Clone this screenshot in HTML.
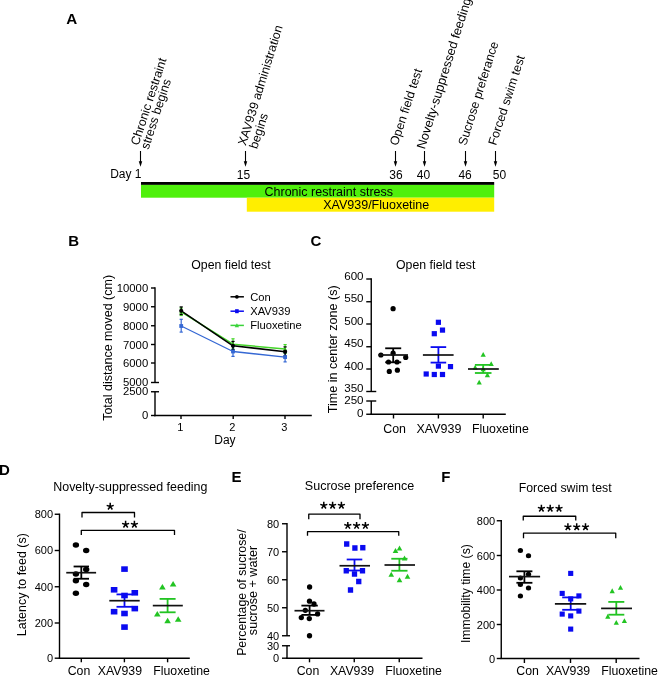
<!DOCTYPE html>
<html><head><meta charset="utf-8"><style>
html,body{margin:0;padding:0;background:#fff;overflow:hidden;}
svg{display:block;font-family:"Liberation Sans", sans-serif;will-change:transform;}
</style></head><body>
<svg width="658" height="676" viewBox="0 0 658 676">
<rect width="658" height="676" fill="#fff"/>
<text x="66.3" y="24.3" font-size="15.2" font-weight="bold">A</text>
<text x="138.5" y="146" font-size="12.4" transform="rotate(-72 138.5 146)">Chronic restraint</text>
<text x="148.5" y="150" font-size="12.4" transform="rotate(-72 148.5 150)">stress begins</text>
<text x="245.8" y="146.3" font-size="12.4" transform="rotate(-72.8 245.8 146.3)">XAV939 administration</text>
<text x="257" y="149.5" font-size="12.4" transform="rotate(-72 257 149.5)">begins</text>
<text x="397.6" y="146.3" font-size="12.4" transform="rotate(-72 397.6 146.3)">Open field test</text>
<text x="424.8" y="149.8" font-size="12.7" transform="rotate(-72.8 424.8 149.8)">Novelty-suppressed feeding</text>
<text x="466" y="146.2" font-size="12.4" transform="rotate(-72.5 466 146.2)">Sucrose preferance</text>
<text x="496" y="146" font-size="12.4" transform="rotate(-72 496 146)">Forced swim test</text>
<line x1="140.5" y1="151" x2="140.5" y2="162.3" stroke="#000" stroke-width="1.1"/>
<polygon points="138.75,161.3 142.25,161.3 140.5,166.8" fill="#000"/>
<line x1="245.5" y1="151" x2="245.5" y2="162.3" stroke="#000" stroke-width="1.1"/>
<polygon points="243.75,161.3 247.25,161.3 245.5,166.8" fill="#000"/>
<line x1="395.5" y1="151" x2="395.5" y2="162.3" stroke="#000" stroke-width="1.1"/>
<polygon points="393.75,161.3 397.25,161.3 395.5,166.8" fill="#000"/>
<line x1="424.5" y1="151" x2="424.5" y2="162.3" stroke="#000" stroke-width="1.1"/>
<polygon points="422.75,161.3 426.25,161.3 424.5,166.8" fill="#000"/>
<line x1="465.5" y1="151" x2="465.5" y2="162.3" stroke="#000" stroke-width="1.1"/>
<polygon points="463.75,161.3 467.25,161.3 465.5,166.8" fill="#000"/>
<line x1="495.5" y1="151" x2="495.5" y2="162.3" stroke="#000" stroke-width="1.1"/>
<polygon points="493.75,161.3 497.25,161.3 495.5,166.8" fill="#000"/>
<text x="141.5" y="178" font-size="12" text-anchor="end">Day 1</text>
<text x="243.4" y="178.5" font-size="12" text-anchor="middle">15</text>
<text x="395.9" y="178.5" font-size="12" text-anchor="middle">36</text>
<text x="423.5" y="178.5" font-size="12" text-anchor="middle">40</text>
<text x="465.1" y="178.5" font-size="12" text-anchor="middle">46</text>
<text x="499.5" y="178.5" font-size="12" text-anchor="middle">50</text>
<rect x="141" y="182" width="353.2" height="2.9" fill="#000"/>
<rect x="141" y="184.9" width="353.2" height="12.8" fill="#4ff00c"/>
<rect x="246.8" y="197.7" width="247.4" height="14" fill="#ffee00"/>
<text x="264.5" y="196" font-size="12.5">Chronic restraint stress</text>
<text x="323.2" y="209.3" font-size="12.5">XAV939/Fluoxetine</text>
<text x="68.3" y="246" font-size="15" font-weight="bold">B</text>
<text x="230.9" y="269.2" font-size="12.3" text-anchor="middle">Open field test</text>
<line x1="155" y1="287.3" x2="155" y2="382.5" stroke="#000" stroke-width="1.4"/>
<line x1="155" y1="391.75" x2="155" y2="416.2" stroke="#000" stroke-width="1.4"/>
<line x1="151" y1="288" x2="155" y2="288" stroke="#000" stroke-width="1.4"/>
<text x="148.2" y="292" font-size="11.3" text-anchor="end">10000</text>
<line x1="151" y1="306.75" x2="155" y2="306.75" stroke="#000" stroke-width="1.4"/>
<text x="148.2" y="310.75" font-size="11.3" text-anchor="end">9000</text>
<line x1="151" y1="325.75" x2="155" y2="325.75" stroke="#000" stroke-width="1.4"/>
<text x="148.2" y="329.75" font-size="11.3" text-anchor="end">8000</text>
<line x1="151" y1="344.5" x2="155" y2="344.5" stroke="#000" stroke-width="1.4"/>
<text x="148.2" y="348.5" font-size="11.3" text-anchor="end">7000</text>
<line x1="151" y1="363" x2="155" y2="363" stroke="#000" stroke-width="1.4"/>
<text x="148.2" y="367" font-size="11.3" text-anchor="end">6000</text>
<line x1="151" y1="382.5" x2="159" y2="382.5" stroke="#000" stroke-width="1.4"/>
<text x="148.2" y="386.1" font-size="11.3" text-anchor="end">5000</text>
<line x1="151" y1="391.75" x2="159" y2="391.75" stroke="#000" stroke-width="1.4"/>
<text x="148.2" y="394.95" font-size="11.3" text-anchor="end">2500</text>
<line x1="151" y1="415.5" x2="155" y2="415.5" stroke="#000" stroke-width="1.4"/>
<text x="148.2" y="418.9" font-size="11.3" text-anchor="end">0</text>
<line x1="154.3" y1="415.5" x2="311.8" y2="415.5" stroke="#000" stroke-width="1.4"/>
<line x1="181" y1="415.5" x2="181" y2="419" stroke="#000" stroke-width="1.4"/>
<text x="180.2" y="431" font-size="11" text-anchor="middle">1</text>
<line x1="233.2" y1="415.5" x2="233.2" y2="419" stroke="#000" stroke-width="1.4"/>
<text x="232.39999999999998" y="431" font-size="11" text-anchor="middle">2</text>
<line x1="285" y1="415.5" x2="285" y2="419" stroke="#000" stroke-width="1.4"/>
<text x="284.2" y="431" font-size="11" text-anchor="middle">3</text>
<text x="224.9" y="444.1" font-size="12" text-anchor="middle">Day</text>
<text x="112.4" y="347.9" font-size="12.5" text-anchor="middle" transform="rotate(-90 112.4 347.9)">Total distance moved (cm)</text>
<polyline points="181.2,311.8 233,344.2 285.1,349.1" fill="none" stroke="#45d62a" stroke-width="1.5" stroke-linejoin="round"/>
<polyline points="181.2,326 233,351.5 285.1,357.1" fill="none" stroke="#3568d4" stroke-width="1.3" stroke-linejoin="round"/>
<polyline points="181.2,310.8 233,345.8 285.1,351.7" fill="none" stroke="#000" stroke-width="1.6" stroke-linejoin="round"/>
<line x1="181.2" y1="308" x2="181.2" y2="315.5" stroke="#45d62a" stroke-width="1.2"/>
<line x1="179.6" y1="308" x2="182.79999999999998" y2="308" stroke="#45d62a" stroke-width="1.2"/>
<line x1="179.6" y1="315.5" x2="182.79999999999998" y2="315.5" stroke="#45d62a" stroke-width="1.2"/>
<line x1="181.2" y1="319.3" x2="181.2" y2="332.1" stroke="#3568d4" stroke-width="1.2"/>
<line x1="179.6" y1="319.3" x2="182.79999999999998" y2="319.3" stroke="#3568d4" stroke-width="1.2"/>
<line x1="179.6" y1="332.1" x2="182.79999999999998" y2="332.1" stroke="#3568d4" stroke-width="1.2"/>
<line x1="181.2" y1="306.9" x2="181.2" y2="314.5" stroke="#000" stroke-width="1.2"/>
<line x1="179.6" y1="306.9" x2="182.79999999999998" y2="306.9" stroke="#000" stroke-width="1.2"/>
<line x1="179.6" y1="314.5" x2="182.79999999999998" y2="314.5" stroke="#000" stroke-width="1.2"/>
<polygon points="181.20,309.71 183.30,313.51 179.10,313.51" fill="#45d62a"/>
<rect x="179.30" y="324.10" width="3.8" height="3.8" fill="#3568d4"/>
<circle cx="181.2" cy="310.8" r="2.1" fill="#000"/>
<line x1="233" y1="338.8" x2="233" y2="349" stroke="#45d62a" stroke-width="1.2"/>
<line x1="231.4" y1="338.8" x2="234.6" y2="338.8" stroke="#45d62a" stroke-width="1.2"/>
<line x1="231.4" y1="349" x2="234.6" y2="349" stroke="#45d62a" stroke-width="1.2"/>
<line x1="233" y1="346.5" x2="233" y2="356.4" stroke="#3568d4" stroke-width="1.2"/>
<line x1="231.4" y1="346.5" x2="234.6" y2="346.5" stroke="#3568d4" stroke-width="1.2"/>
<line x1="231.4" y1="356.4" x2="234.6" y2="356.4" stroke="#3568d4" stroke-width="1.2"/>
<line x1="233" y1="341.4" x2="233" y2="349.7" stroke="#000" stroke-width="1.2"/>
<line x1="231.4" y1="341.4" x2="234.6" y2="341.4" stroke="#000" stroke-width="1.2"/>
<line x1="231.4" y1="349.7" x2="234.6" y2="349.7" stroke="#000" stroke-width="1.2"/>
<polygon points="233.00,342.11 235.10,345.91 230.90,345.91" fill="#45d62a"/>
<rect x="231.10" y="349.60" width="3.8" height="3.8" fill="#3568d4"/>
<circle cx="233" cy="345.8" r="2.1" fill="#000"/>
<line x1="285.1" y1="344.6" x2="285.1" y2="353.5" stroke="#45d62a" stroke-width="1.2"/>
<line x1="283.5" y1="344.6" x2="286.70000000000005" y2="344.6" stroke="#45d62a" stroke-width="1.2"/>
<line x1="283.5" y1="353.5" x2="286.70000000000005" y2="353.5" stroke="#45d62a" stroke-width="1.2"/>
<line x1="285.1" y1="352.5" x2="285.1" y2="361.9" stroke="#3568d4" stroke-width="1.2"/>
<line x1="283.5" y1="352.5" x2="286.70000000000005" y2="352.5" stroke="#3568d4" stroke-width="1.2"/>
<line x1="283.5" y1="361.9" x2="286.70000000000005" y2="361.9" stroke="#3568d4" stroke-width="1.2"/>
<line x1="285.1" y1="346.9" x2="285.1" y2="356" stroke="#000" stroke-width="1.2"/>
<line x1="283.5" y1="346.9" x2="286.70000000000005" y2="346.9" stroke="#000" stroke-width="1.2"/>
<line x1="283.5" y1="356" x2="286.70000000000005" y2="356" stroke="#000" stroke-width="1.2"/>
<polygon points="285.10,347.01 287.20,350.81 283.00,350.81" fill="#45d62a"/>
<rect x="283.20" y="355.20" width="3.8" height="3.8" fill="#3568d4"/>
<circle cx="285.1" cy="351.7" r="2.1" fill="#000"/>
<line x1="230.5" y1="296.8" x2="243.9" y2="296.8" stroke="#000" stroke-width="1.5"/>
<circle cx="236.9" cy="296.8" r="1.9" fill="#000"/>
<text x="250.2" y="300.8" font-size="11.2">Con</text>
<line x1="230.5" y1="311.2" x2="243.9" y2="311.2" stroke="#0a0af0" stroke-width="1.5"/>
<rect x="235.10" y="309.20" width="3.6" height="4" fill="#0a0af0"/>
<text x="250.2" y="315.2" font-size="11.2">XAV939</text>
<line x1="230.5" y1="325.4" x2="243.9" y2="325.4" stroke="#3ad33a" stroke-width="1.5"/>
<polygon points="236.90,323.20 239.10,327.20 234.70,327.20" fill="#3ad33a"/>
<text x="250.2" y="329.4" font-size="11.2">Fluoxetine</text>
<text x="310.4" y="246" font-size="15" font-weight="bold">C</text>
<text x="435.7" y="269.2" font-size="12.3" text-anchor="middle">Open field test</text>
<line x1="371.25" y1="278.3" x2="371.25" y2="391.5" stroke="#000" stroke-width="1.4"/>
<line x1="371.25" y1="401" x2="371.25" y2="415" stroke="#000" stroke-width="1.4"/>
<line x1="366.25" y1="279" x2="371.25" y2="279" stroke="#000" stroke-width="1.4"/>
<text x="363.55" y="279.8" font-size="11.6" text-anchor="end">600</text>
<line x1="366.25" y1="301.75" x2="371.25" y2="301.75" stroke="#000" stroke-width="1.4"/>
<text x="363.55" y="302.3" font-size="11.6" text-anchor="end">550</text>
<line x1="366.25" y1="324" x2="371.25" y2="324" stroke="#000" stroke-width="1.4"/>
<text x="363.55" y="324.6" font-size="11.6" text-anchor="end">500</text>
<line x1="366.25" y1="346.75" x2="371.25" y2="346.75" stroke="#000" stroke-width="1.4"/>
<text x="363.55" y="347.1" font-size="11.6" text-anchor="end">450</text>
<line x1="366.25" y1="369" x2="371.25" y2="369" stroke="#000" stroke-width="1.4"/>
<text x="363.55" y="370.1" font-size="11.6" text-anchor="end">400</text>
<line x1="366.25" y1="391.5" x2="376.25" y2="391.5" stroke="#000" stroke-width="1.4"/>
<text x="363.55" y="392.4" font-size="11.6" text-anchor="end">350</text>
<line x1="366.25" y1="401" x2="376.25" y2="401" stroke="#000" stroke-width="1.4"/>
<text x="363.55" y="403.7" font-size="11.6" text-anchor="end">250</text>
<line x1="366.25" y1="414.25" x2="371.25" y2="414.25" stroke="#000" stroke-width="1.4"/>
<text x="363.55" y="416.7" font-size="11.6" text-anchor="end">0</text>
<line x1="370.55" y1="414.25" x2="505.8" y2="414.25" stroke="#000" stroke-width="1.4"/>
<line x1="393.5" y1="414.25" x2="393.5" y2="418.5" stroke="#000" stroke-width="1.4"/>
<line x1="438.4" y1="414.25" x2="438.4" y2="418.5" stroke="#000" stroke-width="1.4"/>
<line x1="483.2" y1="414.25" x2="483.2" y2="418.5" stroke="#000" stroke-width="1.4"/>
<text x="394.6" y="433" font-size="12.4" text-anchor="middle">Con</text>
<text x="438.9" y="433" font-size="12.5" text-anchor="middle">XAV939</text>
<text x="500.4" y="433" font-size="12.3" text-anchor="middle">Fluoxetine</text>
<text x="337" y="349.3" font-size="12.55" text-anchor="middle" transform="rotate(-90 337 349.3)">Time in center zone (s)</text>
<line x1="393.2" y1="348.3" x2="393.2" y2="362.3" stroke="#000" stroke-width="1.8"/>
<line x1="385.2" y1="348.3" x2="401.2" y2="348.3" stroke="#000" stroke-width="1.8"/>
<line x1="385.2" y1="362.3" x2="401.2" y2="362.3" stroke="#000" stroke-width="1.8"/>
<circle cx="393.1" cy="308.7" r="2.6" fill="#000"/>
<circle cx="380.9" cy="355" r="2.6" fill="#000"/>
<circle cx="393.1" cy="353.2" r="2.6" fill="#000"/>
<circle cx="405.7" cy="357.4" r="2.6" fill="#000"/>
<circle cx="388.5" cy="362" r="2.6" fill="#000"/>
<circle cx="397" cy="362" r="2.6" fill="#000"/>
<circle cx="389.3" cy="371.4" r="2.6" fill="#000"/>
<circle cx="397.4" cy="370.2" r="2.6" fill="#000"/>
<line x1="378.4" y1="355" x2="408" y2="355" stroke="#111" stroke-width="1.7"/>
<rect x="435.80" y="319.70" width="5.2" height="5.2" fill="#0a0af0"/>
<rect x="439.90" y="327.50" width="5.2" height="5.2" fill="#0a0af0"/>
<rect x="431.70" y="331.10" width="5.2" height="5.2" fill="#0a0af0"/>
<rect x="435.80" y="363.50" width="5.2" height="5.2" fill="#0a0af0"/>
<rect x="447.90" y="364.00" width="5.2" height="5.2" fill="#0a0af0"/>
<rect x="423.60" y="371.40" width="5.2" height="5.2" fill="#0a0af0"/>
<rect x="431.70" y="371.90" width="5.2" height="5.2" fill="#0a0af0"/>
<rect x="439.90" y="371.90" width="5.2" height="5.2" fill="#0a0af0"/>
<line x1="438.4" y1="347.1" x2="438.4" y2="362.6" stroke="#0a0af0" stroke-width="1.8"/>
<line x1="430.59999999999997" y1="347.1" x2="446.2" y2="347.1" stroke="#0a0af0" stroke-width="1.8"/>
<line x1="430.59999999999997" y1="362.6" x2="446.2" y2="362.6" stroke="#0a0af0" stroke-width="1.8"/>
<line x1="422.9" y1="355" x2="453.6" y2="355" stroke="#111" stroke-width="1.7"/>
<polygon points="483.20,351.96 485.80,356.76 480.60,356.76" fill="#22c422"/>
<polygon points="491.20,361.16 493.80,365.96 488.60,365.96" fill="#22c422"/>
<polygon points="475.20,364.86 477.80,369.66 472.60,369.66" fill="#22c422"/>
<polygon points="483.20,366.36 485.80,371.16 480.60,371.16" fill="#22c422"/>
<polygon points="487.40,372.36 490.00,377.16 484.80,377.16" fill="#22c422"/>
<polygon points="479.20,379.66 481.80,384.46 476.60,384.46" fill="#22c422"/>
<line x1="483.2" y1="364.9" x2="483.2" y2="373" stroke="#22c422" stroke-width="1.8"/>
<line x1="474.9" y1="364.9" x2="491.5" y2="364.9" stroke="#22c422" stroke-width="1.8"/>
<line x1="474.9" y1="373" x2="491.5" y2="373" stroke="#22c422" stroke-width="1.8"/>
<line x1="468" y1="369" x2="498.8" y2="369" stroke="#111" stroke-width="1.7"/>
<text x="-1.1" y="474.9" font-size="15" font-weight="bold">D</text>
<text x="53.25" y="490.6" font-size="12.45">Novelty-suppressed feeding</text>
<line x1="59.5" y1="513.6" x2="59.5" y2="658.9" stroke="#000" stroke-width="1.4"/>
<line x1="54.7" y1="514.25" x2="59.5" y2="514.25" stroke="#000" stroke-width="1.4"/>
<text x="53.0" y="518.15" font-size="11" text-anchor="end">800</text>
<line x1="54.7" y1="550.5" x2="59.5" y2="550.5" stroke="#000" stroke-width="1.4"/>
<text x="53.0" y="554.4" font-size="11" text-anchor="end">600</text>
<line x1="54.7" y1="586.75" x2="59.5" y2="586.75" stroke="#000" stroke-width="1.4"/>
<text x="53.0" y="590.65" font-size="11" text-anchor="end">400</text>
<line x1="54.7" y1="623" x2="59.5" y2="623" stroke="#000" stroke-width="1.4"/>
<text x="53.0" y="626.9" font-size="11" text-anchor="end">200</text>
<line x1="54.7" y1="658.2" x2="59.5" y2="658.2" stroke="#000" stroke-width="1.4"/>
<text x="53.0" y="662.1" font-size="11" text-anchor="end">0</text>
<line x1="58.8" y1="658.2" x2="189.8" y2="658.2" stroke="#000" stroke-width="1.4"/>
<line x1="81.3" y1="658.2" x2="81.3" y2="662.3" stroke="#000" stroke-width="1.4"/>
<line x1="124.4" y1="658.2" x2="124.4" y2="662.3" stroke="#000" stroke-width="1.4"/>
<line x1="167.6" y1="658.2" x2="167.6" y2="662.3" stroke="#000" stroke-width="1.4"/>
<text x="79" y="675" font-size="12.3" text-anchor="middle">Con</text>
<text x="119.9" y="675" font-size="12.3" text-anchor="middle">XAV939</text>
<text x="181.6" y="675" font-size="12.3" text-anchor="middle">Fluoxetine</text>
<text x="26.5" y="584.7" font-size="12.45" text-anchor="middle" transform="rotate(-90 26.5 584.7)">Latency to feed (s)</text>
<polyline points="82,517.5 82,512.5 134.5,512.5 134.5,517.5" fill="none" stroke="#000" stroke-width="1.3" stroke-linejoin="round"/>
<path d="M110.20,506.50L110.20,502.80M110.20,506.50L113.72,505.36M110.20,506.50L112.37,509.49M110.20,506.50L108.03,509.49M110.20,506.50L106.68,505.36" stroke="#000" stroke-width="1.5" fill="none"/>
<polyline points="81.3,535 81.3,530.3 174.5,530.3 174.5,535" fill="none" stroke="#000" stroke-width="1.3" stroke-linejoin="round"/>
<path d="M125.60,524.50L125.60,520.80M125.60,524.50L129.12,523.36M125.60,524.50L127.77,527.49M125.60,524.50L123.43,527.49M125.60,524.50L122.08,523.36" stroke="#000" stroke-width="1.5" fill="none"/>
<path d="M134.40,524.50L134.40,520.80M134.40,524.50L137.92,523.36M134.40,524.50L136.57,527.49M134.40,524.50L132.23,527.49M134.40,524.50L130.88,523.36" stroke="#000" stroke-width="1.5" fill="none"/>
<ellipse cx="75.9" cy="544.9" rx="3.2" ry="2.75" fill="#000"/>
<ellipse cx="86.2" cy="550.4" rx="3.2" ry="2.75" fill="#000"/>
<ellipse cx="86.2" cy="569.6" rx="3.2" ry="2.75" fill="#000"/>
<ellipse cx="75.9" cy="573.9" rx="3.2" ry="2.75" fill="#000"/>
<ellipse cx="75.9" cy="580.7" rx="3.2" ry="2.75" fill="#000"/>
<ellipse cx="86.2" cy="584.5" rx="3.2" ry="2.75" fill="#000"/>
<ellipse cx="75.9" cy="593.2" rx="3.2" ry="2.75" fill="#000"/>
<line x1="81.3" y1="566.5" x2="81.3" y2="578.75" stroke="#000" stroke-width="1.8"/>
<line x1="73.6" y1="566.5" x2="89.0" y2="566.5" stroke="#000" stroke-width="1.8"/>
<line x1="73.6" y1="578.75" x2="89.0" y2="578.75" stroke="#000" stroke-width="1.8"/>
<line x1="66.25" y1="572.7" x2="96.1" y2="572.7" stroke="#111" stroke-width="1.7"/>
<rect x="121.20" y="566.30" width="6.6" height="5.6" fill="#0a0af0"/>
<rect x="110.80" y="587.00" width="6.6" height="5.6" fill="#0a0af0"/>
<rect x="131.50" y="590.00" width="6.6" height="5.6" fill="#0a0af0"/>
<rect x="121.20" y="592.70" width="6.6" height="5.6" fill="#0a0af0"/>
<rect x="131.50" y="605.80" width="6.6" height="5.6" fill="#0a0af0"/>
<rect x="110.80" y="608.90" width="6.6" height="5.6" fill="#0a0af0"/>
<rect x="121.20" y="610.70" width="6.6" height="5.6" fill="#0a0af0"/>
<rect x="121.20" y="624.30" width="6.6" height="5.6" fill="#0a0af0"/>
<line x1="124.5" y1="594.4" x2="124.5" y2="606.8" stroke="#0a0af0" stroke-width="1.8"/>
<line x1="116.5" y1="594.4" x2="132.5" y2="594.4" stroke="#0a0af0" stroke-width="1.8"/>
<line x1="116.5" y1="606.8" x2="132.5" y2="606.8" stroke="#0a0af0" stroke-width="1.8"/>
<line x1="109.3" y1="600.7" x2="139.7" y2="600.7" stroke="#111" stroke-width="1.7"/>
<polygon points="162.40,583.98 165.70,589.48 159.10,589.48" fill="#22c422"/>
<polygon points="173.10,581.08 176.40,586.58 169.80,586.58" fill="#22c422"/>
<polygon points="157.30,611.08 160.60,616.58 154.00,616.58" fill="#22c422"/>
<polygon points="167.60,617.77 170.90,623.27 164.30,623.27" fill="#22c422"/>
<polygon points="178.20,616.18 181.50,621.68 174.90,621.68" fill="#22c422"/>
<line x1="167.6" y1="598.9" x2="167.6" y2="612.3" stroke="#22c422" stroke-width="1.8"/>
<line x1="159.6" y1="598.9" x2="175.6" y2="598.9" stroke="#22c422" stroke-width="1.8"/>
<line x1="159.6" y1="612.3" x2="175.6" y2="612.3" stroke="#22c422" stroke-width="1.8"/>
<line x1="152.8" y1="605.6" x2="182.8" y2="605.6" stroke="#111" stroke-width="1.7"/>
<text x="231.6" y="481.8" font-size="15" font-weight="bold">E</text>
<text x="304.8" y="489.9" font-size="12.55">Sucrose preference</text>
<line x1="287" y1="523.1" x2="287" y2="635.75" stroke="#000" stroke-width="1.4"/>
<line x1="287" y1="645.75" x2="287" y2="658.9" stroke="#000" stroke-width="1.4"/>
<line x1="282" y1="523.75" x2="287" y2="523.75" stroke="#000" stroke-width="1.4"/>
<text x="279.2" y="527.65" font-size="11" text-anchor="end">80</text>
<line x1="282" y1="551.75" x2="287" y2="551.75" stroke="#000" stroke-width="1.4"/>
<text x="279.2" y="555.65" font-size="11" text-anchor="end">70</text>
<line x1="282" y1="579.75" x2="287" y2="579.75" stroke="#000" stroke-width="1.4"/>
<text x="279.2" y="583.65" font-size="11" text-anchor="end">60</text>
<line x1="282" y1="607.75" x2="287" y2="607.75" stroke="#000" stroke-width="1.4"/>
<text x="279.2" y="611.65" font-size="11" text-anchor="end">50</text>
<line x1="282" y1="635.75" x2="290" y2="635.75" stroke="#000" stroke-width="1.4"/>
<text x="279.2" y="639.65" font-size="11" text-anchor="end">40</text>
<line x1="282" y1="645.75" x2="290" y2="645.75" stroke="#000" stroke-width="1.4"/>
<text x="279.2" y="649.65" font-size="11" text-anchor="end">30</text>
<line x1="282" y1="658.2" x2="287" y2="658.2" stroke="#000" stroke-width="1.4"/>
<text x="279.2" y="662.1" font-size="11" text-anchor="end">0</text>
<line x1="286.3" y1="658.2" x2="422.5" y2="658.2" stroke="#000" stroke-width="1.4"/>
<line x1="309.5" y1="658.2" x2="309.5" y2="662.3" stroke="#000" stroke-width="1.4"/>
<line x1="354.25" y1="658.2" x2="354.25" y2="662.3" stroke="#000" stroke-width="1.4"/>
<line x1="399.25" y1="658.2" x2="399.25" y2="662.3" stroke="#000" stroke-width="1.4"/>
<text x="308" y="675" font-size="12.3" text-anchor="middle">Con</text>
<text x="352" y="675" font-size="12.3" text-anchor="middle">XAV939</text>
<text x="413.6" y="675" font-size="12.3" text-anchor="middle">Fluoxetine</text>
<text x="246.1" y="592.6" font-size="12.3" text-anchor="middle" transform="rotate(-90 246.1 592.6)">Percentage of sucrose/</text>
<text x="257.1" y="590.5" font-size="12.6" text-anchor="middle" transform="rotate(-90 257.1 590.5)">sucrose + water</text>
<polyline points="308.75,519.3 308.75,514.2 360,514.2 360,519.3" fill="none" stroke="#000" stroke-width="1.3" stroke-linejoin="round"/>
<path d="M323.80,505.50L323.80,501.80M323.80,505.50L327.32,504.36M323.80,505.50L325.97,508.49M323.80,505.50L321.63,508.49M323.80,505.50L320.28,504.36" stroke="#000" stroke-width="1.5" fill="none"/>
<path d="M332.60,505.50L332.60,501.80M332.60,505.50L336.12,504.36M332.60,505.50L334.77,508.49M332.60,505.50L330.43,508.49M332.60,505.50L329.08,504.36" stroke="#000" stroke-width="1.5" fill="none"/>
<path d="M341.40,505.50L341.40,501.80M341.40,505.50L344.92,504.36M341.40,505.50L343.57,508.49M341.40,505.50L339.23,508.49M341.40,505.50L337.88,504.36" stroke="#000" stroke-width="1.5" fill="none"/>
<polyline points="307.5,535.75 307.5,531.7 398.75,531.7 398.75,535.75" fill="none" stroke="#000" stroke-width="1.3" stroke-linejoin="round"/>
<path d="M347.80,525.60L347.80,521.90M347.80,525.60L351.32,524.46M347.80,525.60L349.97,528.59M347.80,525.60L345.63,528.59M347.80,525.60L344.28,524.46" stroke="#000" stroke-width="1.5" fill="none"/>
<path d="M356.60,525.60L356.60,521.90M356.60,525.60L360.12,524.46M356.60,525.60L358.77,528.59M356.60,525.60L354.43,528.59M356.60,525.60L353.08,524.46" stroke="#000" stroke-width="1.5" fill="none"/>
<path d="M365.40,525.60L365.40,521.90M365.40,525.60L368.92,524.46M365.40,525.60L367.57,528.59M365.40,525.60L363.23,528.59M365.40,525.60L361.88,524.46" stroke="#000" stroke-width="1.5" fill="none"/>
<circle cx="309.6" cy="587" r="2.65" fill="#000"/>
<circle cx="309.5" cy="601.2" r="2.65" fill="#000"/>
<circle cx="314" cy="604" r="2.65" fill="#000"/>
<circle cx="305.3" cy="610.3" r="2.65" fill="#000"/>
<circle cx="317.6" cy="613.9" r="2.65" fill="#000"/>
<circle cx="301.3" cy="617.6" r="2.65" fill="#000"/>
<circle cx="309.3" cy="618.6" r="2.65" fill="#000"/>
<circle cx="309.5" cy="635.75" r="2.65" fill="#000"/>
<line x1="309.6" y1="605.6" x2="309.6" y2="614.9" stroke="#000" stroke-width="1.8"/>
<line x1="301.40000000000003" y1="605.6" x2="317.8" y2="605.6" stroke="#000" stroke-width="1.8"/>
<line x1="301.40000000000003" y1="614.9" x2="317.8" y2="614.9" stroke="#000" stroke-width="1.8"/>
<line x1="294.5" y1="610.7" x2="324.5" y2="610.7" stroke="#111" stroke-width="1.7"/>
<rect x="344.05" y="541.25" width="5.3" height="5.5" fill="#0a0af0"/>
<rect x="352.25" y="545.25" width="5.3" height="5.5" fill="#0a0af0"/>
<rect x="360.15" y="544.95" width="5.3" height="5.5" fill="#0a0af0"/>
<rect x="343.60" y="568.00" width="5.3" height="5.5" fill="#0a0af0"/>
<rect x="351.85" y="571.25" width="5.3" height="5.5" fill="#0a0af0"/>
<rect x="359.85" y="568.00" width="5.3" height="5.5" fill="#0a0af0"/>
<rect x="356.10" y="578.75" width="5.3" height="5.5" fill="#0a0af0"/>
<rect x="347.85" y="587.25" width="5.3" height="5.5" fill="#0a0af0"/>
<line x1="354.5" y1="559.5" x2="354.5" y2="570.5" stroke="#0a0af0" stroke-width="1.8"/>
<line x1="346.7" y1="559.5" x2="362.3" y2="559.5" stroke="#0a0af0" stroke-width="1.8"/>
<line x1="346.7" y1="570.5" x2="362.3" y2="570.5" stroke="#0a0af0" stroke-width="1.8"/>
<line x1="339.5" y1="565.75" x2="370" y2="565.75" stroke="#111" stroke-width="1.7"/>
<polygon points="395.50,548.00 398.30,553.00 392.70,553.00" fill="#22c422"/>
<polygon points="399.50,545.50 402.30,550.50 396.70,550.50" fill="#22c422"/>
<polygon points="404.50,555.50 407.30,560.50 401.70,560.50" fill="#22c422"/>
<polygon points="391.25,571.75 394.05,576.75 388.45,576.75" fill="#22c422"/>
<polygon points="399.50,577.25 402.30,582.25 396.70,582.25" fill="#22c422"/>
<polygon points="407.50,573.75 410.30,578.75 404.70,578.75" fill="#22c422"/>
<line x1="399.4" y1="558.75" x2="399.4" y2="570.75" stroke="#22c422" stroke-width="1.8"/>
<line x1="391.29999999999995" y1="558.75" x2="407.5" y2="558.75" stroke="#22c422" stroke-width="1.8"/>
<line x1="391.29999999999995" y1="570.75" x2="407.5" y2="570.75" stroke="#22c422" stroke-width="1.8"/>
<line x1="384.5" y1="565" x2="415" y2="565" stroke="#111" stroke-width="1.7"/>
<text x="441.2" y="481.8" font-size="15" font-weight="bold">F</text>
<text x="518.75" y="492.1" font-size="12.3">Forced swim test</text>
<line x1="501.25" y1="520.1" x2="501.25" y2="658.9" stroke="#000" stroke-width="1.4"/>
<line x1="496.75" y1="520.75" x2="501.25" y2="520.75" stroke="#000" stroke-width="1.4"/>
<text x="495.15" y="525.15" font-size="11" text-anchor="end">800</text>
<line x1="496.75" y1="555.5" x2="501.25" y2="555.5" stroke="#000" stroke-width="1.4"/>
<text x="495.15" y="559.9" font-size="11" text-anchor="end">600</text>
<line x1="496.75" y1="590" x2="501.25" y2="590" stroke="#000" stroke-width="1.4"/>
<text x="495.15" y="594.4" font-size="11" text-anchor="end">400</text>
<line x1="496.75" y1="624.5" x2="501.25" y2="624.5" stroke="#000" stroke-width="1.4"/>
<text x="495.15" y="628.9" font-size="11" text-anchor="end">200</text>
<line x1="496.75" y1="658.5" x2="501.25" y2="658.5" stroke="#000" stroke-width="1.4"/>
<text x="495.15" y="662.9" font-size="11" text-anchor="end">0</text>
<line x1="500.55" y1="658.5" x2="639.5" y2="658.5" stroke="#000" stroke-width="1.4"/>
<line x1="524.4" y1="658.5" x2="524.4" y2="663" stroke="#000" stroke-width="1.4"/>
<line x1="570.5" y1="658.5" x2="570.5" y2="663" stroke="#000" stroke-width="1.4"/>
<line x1="616.2" y1="658.5" x2="616.2" y2="663" stroke="#000" stroke-width="1.4"/>
<text x="527.6" y="675" font-size="12.3" text-anchor="middle">Con</text>
<text x="568" y="675" font-size="12.3" text-anchor="middle">XAV939</text>
<text x="629.6" y="675" font-size="12.3" text-anchor="middle">Fluoxetine</text>
<text x="470.5" y="593.6" font-size="12.2" text-anchor="middle" transform="rotate(-90 470.5 593.6)">Immobility time (s)</text>
<polyline points="523.25,520.5 523.25,516.25 575.75,516.25 575.75,520.5" fill="none" stroke="#000" stroke-width="1.3" stroke-linejoin="round"/>
<path d="M541.40,508.50L541.40,504.80M541.40,508.50L544.92,507.36M541.40,508.50L543.57,511.49M541.40,508.50L539.23,511.49M541.40,508.50L537.88,507.36" stroke="#000" stroke-width="1.5" fill="none"/>
<path d="M550.20,508.50L550.20,504.80M550.20,508.50L553.72,507.36M550.20,508.50L552.37,511.49M550.20,508.50L548.03,511.49M550.20,508.50L546.68,507.36" stroke="#000" stroke-width="1.5" fill="none"/>
<path d="M559.00,508.50L559.00,504.80M559.00,508.50L562.52,507.36M559.00,508.50L561.17,511.49M559.00,508.50L556.83,511.49M559.00,508.50L555.48,507.36" stroke="#000" stroke-width="1.5" fill="none"/>
<polyline points="523.5,538.25 523.5,533.2 615.75,533.2 615.75,538.25" fill="none" stroke="#000" stroke-width="1.3" stroke-linejoin="round"/>
<path d="M567.90,527.00L567.90,523.30M567.90,527.00L571.42,525.86M567.90,527.00L570.07,529.99M567.90,527.00L565.73,529.99M567.90,527.00L564.38,525.86" stroke="#000" stroke-width="1.5" fill="none"/>
<path d="M576.70,527.00L576.70,523.30M576.70,527.00L580.22,525.86M576.70,527.00L578.87,529.99M576.70,527.00L574.53,529.99M576.70,527.00L573.18,525.86" stroke="#000" stroke-width="1.5" fill="none"/>
<path d="M585.50,527.00L585.50,523.30M585.50,527.00L589.02,525.86M585.50,527.00L587.67,529.99M585.50,527.00L583.33,529.99M585.50,527.00L581.98,525.86" stroke="#000" stroke-width="1.5" fill="none"/>
<ellipse cx="520.4" cy="550.4" rx="2.65" ry="2.5" fill="#000"/>
<ellipse cx="528.5" cy="555.7" rx="2.65" ry="2.5" fill="#000"/>
<ellipse cx="528.5" cy="574.2" rx="2.65" ry="2.5" fill="#000"/>
<ellipse cx="520.4" cy="578" rx="2.65" ry="2.5" fill="#000"/>
<ellipse cx="520.4" cy="584.4" rx="2.65" ry="2.5" fill="#000"/>
<ellipse cx="528.5" cy="588" rx="2.65" ry="2.5" fill="#000"/>
<ellipse cx="520.4" cy="596.1" rx="2.65" ry="2.5" fill="#000"/>
<line x1="524.4" y1="571.3" x2="524.4" y2="582.8" stroke="#000" stroke-width="1.8"/>
<line x1="516.4" y1="571.3" x2="532.4" y2="571.3" stroke="#000" stroke-width="1.8"/>
<line x1="516.4" y1="582.8" x2="532.4" y2="582.8" stroke="#000" stroke-width="1.8"/>
<line x1="509" y1="576.6" x2="540.1" y2="576.6" stroke="#111" stroke-width="1.7"/>
<rect x="568.15" y="570.85" width="5.1" height="5.1" fill="#0a0af0"/>
<rect x="559.65" y="590.85" width="5.1" height="5.1" fill="#0a0af0"/>
<rect x="576.35" y="593.35" width="5.1" height="5.1" fill="#0a0af0"/>
<rect x="568.15" y="596.35" width="5.1" height="5.1" fill="#0a0af0"/>
<rect x="576.35" y="608.55" width="5.1" height="5.1" fill="#0a0af0"/>
<rect x="559.65" y="611.55" width="5.1" height="5.1" fill="#0a0af0"/>
<rect x="568.15" y="613.35" width="5.1" height="5.1" fill="#0a0af0"/>
<rect x="568.15" y="626.55" width="5.1" height="5.1" fill="#0a0af0"/>
<line x1="570.7" y1="597.4" x2="570.7" y2="609.8" stroke="#0a0af0" stroke-width="1.8"/>
<line x1="562.2" y1="597.4" x2="579.2" y2="597.4" stroke="#0a0af0" stroke-width="1.8"/>
<line x1="562.2" y1="609.8" x2="579.2" y2="609.8" stroke="#0a0af0" stroke-width="1.8"/>
<line x1="554.9" y1="603.8" x2="586.2" y2="603.8" stroke="#111" stroke-width="1.7"/>
<polygon points="612.20,588.36 614.80,593.16 609.60,593.16" fill="#22c422"/>
<polygon points="620.50,585.06 623.10,589.86 617.90,589.86" fill="#22c422"/>
<polygon points="607.80,613.86 610.40,618.66 605.20,618.66" fill="#22c422"/>
<polygon points="616.30,619.96 618.90,624.76 613.70,624.76" fill="#22c422"/>
<polygon points="624.40,618.16 627.00,622.96 621.80,622.96" fill="#22c422"/>
<line x1="616.3" y1="601.9" x2="616.3" y2="614.7" stroke="#22c422" stroke-width="1.8"/>
<line x1="608.3" y1="601.9" x2="624.3" y2="601.9" stroke="#22c422" stroke-width="1.8"/>
<line x1="608.3" y1="614.7" x2="624.3" y2="614.7" stroke="#22c422" stroke-width="1.8"/>
<line x1="601.1" y1="608.4" x2="632" y2="608.4" stroke="#111" stroke-width="1.7"/>
</svg>
</body></html>
